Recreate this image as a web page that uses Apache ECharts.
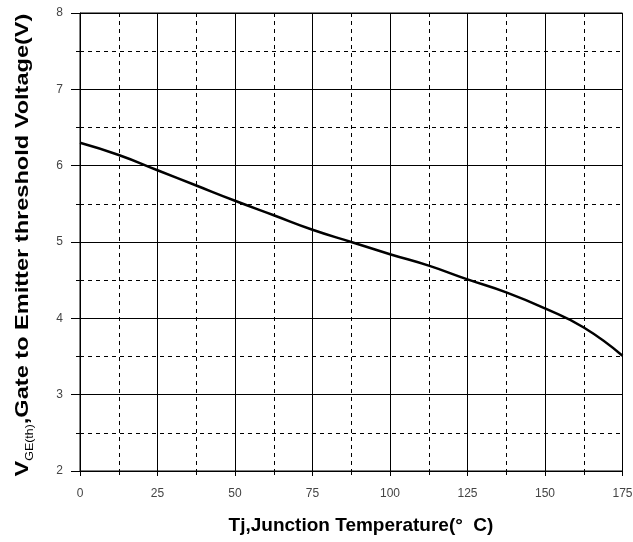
<!DOCTYPE html>
<html>
<head>
<meta charset="utf-8">
<script src="https://cdn.jsdelivr.net/npm/echarts@6/dist/echarts.min.js"></script>
<style>
    html, body { margin: 0; padding: 0; background: #fff; }
    #chart { width: 633px; height: 542px; }
</style>
</head>
<body>
<div id="chart"></div>
<script>
// 结温 Tj (°C)
var temps = [0, 12.5, 25, 37.5, 50, 62.5, 75, 87.5, 100, 112.5, 125, 137.5, 150, 162.5, 175];
// 阈值电压 VGE(th) (V)
var vth = [6.30, 6.14, 5.94, 5.74, 5.54, 5.35, 5.16, 5.00, 4.84, 4.69, 4.51, 4.34, 4.13, 3.88, 3.51];
var xTitle = "Tj,Junction Temperature(°  C)";
var yTitle = ["V", "GE(th)", ",Gate to Emitter threshold Voltage(V)"];

var points = temps.map(function (t, i) { return [t, vth[i]]; });

var myChart = echarts.init(document.getElementById("chart"));
var font = "Arial, 'Liberation Sans', sans-serif";
var option = {
    animation: false,
    backgroundColor: "#fff",
    grid: {
        left: 80,
        right: 10.5,
        top: 13,
        bottom: 71,
        outerBoundsMode: "none",
        containLabel: false,
        show: true,
        borderColor: "#000",
        borderWidth: 1
    },
    xAxis: {
        type: "value",
        min: 0,
        max: 175,
        interval: 25,
        axisLine: { lineStyle: { color: "#000", width: 1 } },
        axisTick: { show: true, length: 5, lineStyle: { color: "#000" } },
        minorTick: { show: true, splitNumber: 2, length: 4, lineStyle: { color: "#000" } },
        axisLabel: { fontFamily: font, fontSize: 12, color: "#444", margin: 17 },
        splitLine: { show: true, lineStyle: { color: "#000", width: 1 } },
        minorSplitLine: { show: true, lineStyle: { color: "#000", width: 1, type: [4, 4] } }
    },
    yAxis: {
        type: "value",
        min: 2,
        max: 8,
        interval: 1,
        axisLine: { lineStyle: { color: "#000", width: 1 } },
        axisTick: { show: true, length: 9, lineStyle: { color: "#000" } },
        minorTick: { show: true, splitNumber: 2, length: 4, lineStyle: { color: "#000" } },
        axisLabel: { fontFamily: font, fontSize: 12, color: "#444", margin: 17 },
        splitLine: { show: true, lineStyle: { color: "#000", width: 1 } },
        minorSplitLine: { show: true, lineStyle: { color: "#000", width: 1, type: [4, 4] } }
    },
    graphic: [{
        type: "text",
        x: 361,
        y: 526,
        style: {
            text: xTitle,
            font: "bold 19px " + font,
            fill: "#000",
            align: "center",
            verticalAlign: "middle"
        }
    }, {
        type: "text",
        x: 23,
        y: 245,
        rotation: Math.PI / 2,
        scaleX: 1.24,
        style: {
            text: "{a|" + yTitle[0] + "}{b|" + yTitle[1] + "}{a|" + yTitle[2] + "}",
            align: "center",
            verticalAlign: "middle",
            rich: {
                a: { font: "bold 19px " + font, fill: "#000", lineHeight: 24, verticalAlign: "middle" },
                b: { font: "10px " + font, fill: "#000", lineHeight: 24, verticalAlign: "bottom" }
            }
        }
    }],
    series: [{
        type: "line",
        data: points,
        smooth: true,
        symbol: "none",
        lineStyle: { color: "#000", width: 2.5 }
    }]
};
myChart.setOption(option);
</script>
</body>
</html>
